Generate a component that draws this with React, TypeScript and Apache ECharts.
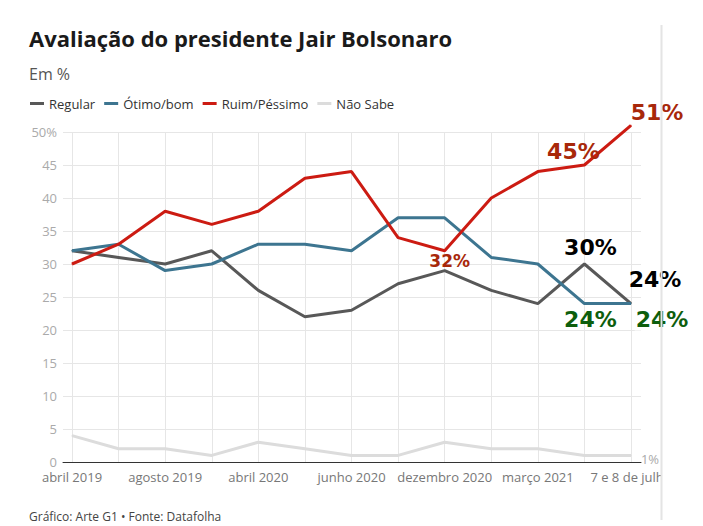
import React, { useEffect, useRef } from "react";
import * as echarts from "echarts";

const categories = [
  "abril 2019", "julho 2019", "agosto 2019", "dezembro 2019", "abril 2020", "maio 2020",
  "junho 2020", "agosto 2020", "dezembro 2020", "janeiro 2021", "março 2021", "maio 2021", "7 e 8 de julho",
];
const regular = [32, 31, 30, 32, 26, 22, 23, 27, 29, 26, 24, 30, 24];
const otimoBom = [32, 33, 29, 30, 33, 33, 32, 37, 37, 31, 30, 24, 24];
const ruimPessimo = [30, 33, 38, 36, 38, 43, 44, 34, 32, 40, 44, 45, 51];
const naoSabe = [4, 2, 2, 1, 3, 2, 1, 1, 3, 2, 2, 1, 1];
const seriesNames = ["Regular", "Ótimo/bom", "Ruim/Péssimo", "Não Sabe"];

const FONT = "'Open Sans', sans-serif";
const BIG = "'DejaVu Sans', sans-serif";
const RED_LBL = "#a8280a";
const GREEN_LBL = "#0d5e0d";

function big(color: string, offset: number[], size = 22, bg?: string) {
  return {
    show: true, position: "inside", offset, formatter: "{c}%",
    color, fontFamily: BIG, fontWeight: "bold", fontSize: size,
    backgroundColor: bg, padding: bg ? [0, 1] : 0,
  };
}

function withLabels(values: number[], labels: Record<number, any>) {
  return values.map((v, i) => (labels[i] ? { value: v, label: labels[i] } : v));
}

export default function App() {
  const ref = useRef<HTMLDivElement>(null);
  useEffect(() => {
    if (!ref.current) return;
    const chart = echarts.init(ref.current, null, { renderer: "svg" });
    const line = (name: string, color: string, data: any[], z: number) => ({
      name, type: "line", data, xAxisIndex: 0, yAxisIndex: 0, z, clip: false,
      symbol: "circle", symbolSize: 1, showSymbol: true,
      itemStyle: { color }, lineStyle: { color, width: 3 },
      label: { show: false }, emphasis: { disabled: true },
    });
    chart.setOption({
      animation: false,
      backgroundColor: "#fff",
      textStyle: { fontFamily: FONT },
      title: [
        { text: "Avaliação do presidente Jair Bolsonaro", left: 24, top: 22,
          textStyle: { fontFamily: FONT, fontWeight: "bold", fontSize: 22, color: "#1a1a1a" } },
        { text: "Em %", left: 24, top: 61,
          textStyle: { fontFamily: FONT, fontWeight: "normal", fontSize: 16, color: "#555" } },
        { text: "Gráfico: Arte G1 • Fonte: Datafolha", left: 24, top: 505,
          textStyle: { fontFamily: FONT, fontWeight: "normal", fontSize: 12, color: "#444" } },
      ],
      legend: {
        data: seriesNames, left: 25, top: 92, icon: "rect", itemWidth: 14, itemHeight: 3,
        itemGap: 9, textStyle: { fontFamily: FONT, fontSize: 13, color: "#333" },
      },
      grid: [
        { left: 72, right: 72, top: 132, bottom: 64 },
        { left: 63, right: 62, top: 132, bottom: 64 },
      ],
      xAxis: [
        {
          type: "category", gridIndex: 0, data: categories, boundaryGap: false,
          axisLine: { show: false }, axisTick: { show: false },
          axisLabel: { interval: 1, color: "#777", fontSize: 13, fontFamily: FONT, margin: 8 },
          splitLine: { show: true, interval: 0, lineStyle: { color: "#e6e6e6", width: 1 } },
        },
        {
          type: "value", gridIndex: 1, min: 0, max: 1,
          axisLine: { show: true, lineStyle: { color: "#333", width: 1 } },
          axisTick: { show: false }, axisLabel: { show: false }, splitLine: { show: false },
        },
      ],
      yAxis: [
        { type: "value", gridIndex: 0, min: 0, max: 50, interval: 5, show: false },
        {
          type: "value", gridIndex: 1, min: 0, max: 50, interval: 5,
          axisLine: { show: false }, axisTick: { show: false },
          axisLabel: { color: "#aaa", fontSize: 13, fontFamily: FONT, margin: 6,
            formatter: (v: number) => (v === 50 ? "50%" : String(v)) },
          splitLine: { lineStyle: { color: "#e6e6e6", width: 1 } },
        },
      ],
      graphic: [
        { type: "rect", shape: { x: 662, y: 466, width: 41, height: 24 }, style: { fill: "#fff" }, z: 100 },
        { type: "line", shape: { x1: 661.5, y1: 25, x2: 661.5, y2: 520 }, style: { stroke: "#e4e4e4", lineWidth: 2 }, z: 101 },
      ],
      series: [
        line("Não Sabe", "#dcdcdc", withLabels(naoSabe, {
          12: { show: true, position: "inside", offset: [19, 4], formatter: "{c}%", color: "#aaa", fontSize: 13, fontFamily: FONT },
        }), 2),
        line("Regular", "#585858", withLabels(regular, {
          11: big("#000", [6, -17]),
          12: big("#000", [24, -24]),
        }), 3),
        line("Ótimo/bom", "#3d7590", withLabels(otimoBom, {
          11: big(GREEN_LBL, [6, 16]),
          12: big(GREEN_LBL, [31, 16], 22, "#fff"),
        }), 4),
        line("Ruim/Péssimo", "#cc1b12", withLabels(ruimPessimo, {
          8: big(RED_LBL, [5, 10], 17),
          11: big(RED_LBL, [-11, -14]),
          12: big(RED_LBL, [26, -13], 22, "#fff"),
        }), 5),
      ],
    });
    return () => chart.dispose();
  }, []);
  return <div ref={ref} style={{ position: "fixed", left: 0, top: 0, width: 703, height: 526 }} />;
}
